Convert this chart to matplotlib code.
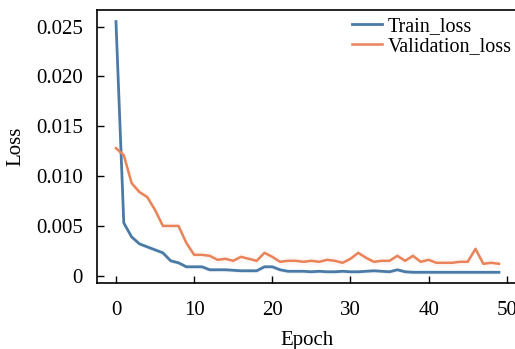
import numpy as np
import matplotlib
matplotlib.use("Agg")
import matplotlib.pyplot as plt
from matplotlib.ticker import FuncFormatter

# loss per epoch
epochs = np.arange(50)
train_loss = [0.0255, 0.0053, 0.0039, 0.0032, 0.0029, 0.0026, 0.0023, 0.0015, 0.0013, 0.0009,
              0.0009, 0.0009, 0.0006, 0.0006, 0.0006, 0.00055, 0.0005, 0.0005, 0.0005, 0.0009,
              0.0009, 0.0006, 0.00045, 0.00045, 0.00045, 0.0004, 0.00045, 0.0004, 0.0004, 0.00045,
              0.0004, 0.0004, 0.00045, 0.0005, 0.00045, 0.0004, 0.0006, 0.0004, 0.00035, 0.00035,
              0.00035, 0.00035, 0.00035, 0.00035, 0.00035, 0.00035, 0.00035, 0.00035, 0.00035, 0.00035]
val_loss = [0.0128, 0.0121, 0.0093, 0.0084, 0.0079, 0.0066, 0.0050, 0.0050, 0.0050, 0.0033,
            0.0021, 0.0021, 0.0020, 0.0016, 0.0017, 0.0015, 0.0019, 0.0017, 0.0015, 0.0023,
            0.0019, 0.0014, 0.0015, 0.0015, 0.0014, 0.0015, 0.0014, 0.0016, 0.0015, 0.0013,
            0.0017, 0.0023, 0.0018, 0.0014, 0.0015, 0.0015, 0.0020, 0.0015, 0.0020, 0.0014,
            0.0016, 0.0013, 0.0013, 0.0013, 0.0014, 0.0014, 0.0027, 0.0012, 0.0013, 0.0012]

plt.rcParams['font.family'] = ['Liberation Serif', 'DejaVu Serif']
plt.rcParams['font.size'] = 15

fig = plt.figure(figsize=(5.15, 3.49), dpi=100)
ax = fig.add_axes([0.188, 0.189, 0.818, 0.782])

blue = '#4a7aa6'
orange = '#e9835a'
ax.plot(epochs, train_loss, color=blue, lw=2, label='Train_loss')
ax.plot(epochs, val_loss, color=orange, lw=1.8, label='Validation_loss')
# faint halo round the lines
tr = np.array(train_loss)
vl = np.array(val_loss)
ax.fill_between(epochs, tr - 0.0002, tr + 0.0002, color=blue, alpha=0.08, lw=0)
ax.fill_between(epochs, vl - 0.0004, vl + 0.0004, color=orange, alpha=0.06, lw=0)

ax.set_xlim(-2.45, 51.45)
ax.set_ylim(-0.00073, 0.02665)
ax.set_xticks([0, 10, 20, 30, 40, 50])
ax.set_yticks([0, 0.005, 0.010, 0.015, 0.020, 0.025])
ax.yaxis.set_major_formatter(FuncFormatter(lambda v, p: '0' if v == 0 else f'{v:.3f}'))
ax.tick_params(direction='in', length=5, width=1, labelsize=15)
ax.tick_params(axis='x', pad=13)
ax.tick_params(axis='y', pad=10)
ax.set_xlabel('Epoch', fontsize=15, labelpad=8)
ax.set_ylabel('Loss', fontsize=15, labelpad=8)
for s in ax.spines.values():
    s.set_linewidth(1.2)

ax.legend(loc='upper right', frameon=False, fontsize=14.5, handlelength=1.5,
          borderaxespad=0.1, labelspacing=0.05, handletextpad=0.3,
          bbox_to_anchor=(1.006 + 4 / 515, 0.971 + 3 / 349),
          bbox_transform=fig.transFigure)

plt.savefig('out.png', dpi=100)
